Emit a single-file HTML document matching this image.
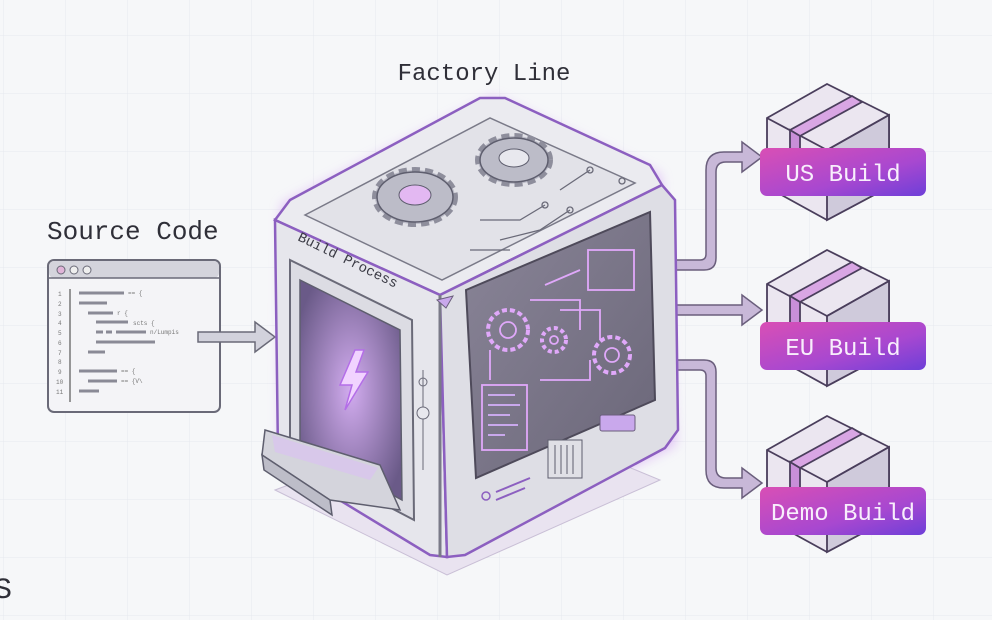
<!DOCTYPE html>
<html><head><meta charset="utf-8"><style>
html,body{margin:0;padding:0;background:#f6f7f9;}
svg{display:block}
text{font-family:"Liberation Mono","DejaVu Sans Mono",monospace;}
</style></head><body>
<svg width="992" height="620" viewBox="0 0 992 620" xmlns="http://www.w3.org/2000/svg">
<defs>
<pattern id="g" width="62" height="58" patternUnits="userSpaceOnUse" x="4" y="36">
<path d="M62 0V58M0 58H62" stroke="#e6e8ee" stroke-width="1" fill="none"/>
</pattern>
<linearGradient id="lab" x1="0" y1="0" x2="1" y2="1">
<stop offset="0" stop-color="#d94fb5"/><stop offset="0.6" stop-color="#a848d0"/><stop offset="1" stop-color="#6e3fd8"/>
</linearGradient>
<linearGradient id="scr" x1="0" y1="0" x2="1" y2="1">
<stop offset="0" stop-color="#8a8598"/><stop offset="1" stop-color="#6a6678"/>
</linearGradient>
<radialGradient id="door" cx="0.5" cy="0.5" r="0.6">
<stop offset="0" stop-color="#d2acef"/><stop offset="1" stop-color="#6a5a88"/>
</radialGradient>
<filter id="glow" x="-20%" y="-20%" width="140%" height="140%"><feGaussianBlur stdDeviation="6"/></filter>
</defs>
<rect width="992" height="620" fill="#f6f7f9"/>
<rect width="992" height="620" fill="url(#g)"/>

<text x="484" y="80" font-size="24" text-anchor="middle" fill="#2f2f38">Factory Line</text>
<text x="47" y="239" font-size="26" fill="#2f2f38">Source Code</text>
<text x="-6" y="598" font-size="30" fill="#2f2f38">S</text>

<!-- code window -->
<rect x="48" y="260" width="172" height="152" rx="6" fill="#f4f4f7" stroke="#6a6a78" stroke-width="2"/>
<rect x="49" y="261" width="170" height="17" rx="5" fill="#d4d4dc"/>
<path d="M48 278H220" stroke="#6a6a78" stroke-width="1.5"/>
<circle cx="61" cy="270" r="4" fill="#e0b4d8" stroke="#6a6a78"/>
<circle cx="74" cy="270" r="4" fill="#eee" stroke="#6a6a78"/>
<circle cx="87" cy="270" r="4" fill="#eee" stroke="#6a6a78"/>
<path d="M70 289V402" stroke="#777" stroke-width="1.5"/>
<g stroke="#8a8a96" stroke-width="3">
<path d="M79 293H124M79 303H107M88 313H113M96 322H128M96 332H103M106 332H112M116 332H146M96 342H155M88 352H105M79 371H117M88 381H117M79 391H99"/>
</g>
<g font-size="6" fill="#777"><text x="58" y="296">1</text><text x="58" y="306">2</text><text x="58" y="316">3</text><text x="58" y="325">4</text><text x="58" y="335">5</text><text x="58" y="345">6</text><text x="58" y="355">7</text><text x="58" y="364">8</text><text x="58" y="374">9</text><text x="56" y="384">10</text><text x="56" y="394">11</text>
<text x="128" y="295">== {</text><text x="117" y="315">r {</text><text x="133" y="325">scts {</text><text x="150" y="334">n/Lumpis</text><text x="121" y="373">== {</text><text x="121" y="383">== {V\</text></g>
<path d="M198 332H255V322L275 337L255 352V342H198Z" fill="#d2d2dc" stroke="#6a6a78" stroke-width="1.5"/>

<!-- output arrows -->
<g fill="#c8b8d8" stroke="#6a5e7c" stroke-width="1.5">
<path d="M660 260H700Q706 260 706 254V170Q706 152 724 152H742V142L762 157L742 172V162H726Q716 162 716 172V258Q716 270 704 270H660Z"/>
<path d="M660 305H742V295L762 310L742 325V315H660Z"/>
<path d="M660 360H704Q716 360 716 372V468Q716 478 726 478H742V468L762 483L742 498V488H724Q706 488 706 470V376Q706 370 700 370H660Z"/>
</g>

<!-- cube glow -->
<path d="M282 205L493 97L660 175L675 445L447 557L280 460Z" fill="#c98cf0" opacity="0.55" filter="url(#glow)"/>
<path d="M275 490L447 575L660 480L490 410Z" fill="#e9e3f0" stroke="#c9bfd6" stroke-width="1"/>
<!-- top face -->
<path d="M275 220L290 200L480 98L505 98L650 165L662 185L440 295Z" fill="#ebebf0" stroke="#8c5fc0" stroke-width="2.5"/>
<path d="M305 215L490 118L635 183L442 280Z" fill="#e2e2e8" stroke="#7a7a88" stroke-width="1.5"/>
<!-- left face -->
<path d="M275 220L440 295L447 557L430 555L290 470L278 455Z" fill="#e6e6ec" stroke="#8c5fc0" stroke-width="2.5"/>
<!-- right face -->
<path d="M440 295L662 185L675 200L678 430L665 448L465 555L447 557Z" fill="#dedee5" stroke="#8c5fc0" stroke-width="2.5"/>
<path d="M440 295V557" stroke="#7a7a88" stroke-width="3"/>
<polygon points="437,300 453,296 446,308" fill="#c9a8ec" stroke="#6a5e7c"/>
<!-- gears on top -->
<g fill="#bcbcc8" stroke="#5e5e6e" stroke-width="1.5">
<ellipse cx="415" cy="197" rx="40" ry="27" stroke-dasharray="8 5" stroke-width="6" stroke="#8e8e9c"/>
<ellipse cx="415" cy="197" rx="38" ry="25"/>
<ellipse cx="514" cy="160" rx="36" ry="24" stroke-dasharray="8 5" stroke-width="6" stroke="#8e8e9c"/>
<ellipse cx="514" cy="160" rx="34" ry="22"/>
</g>
<ellipse cx="415" cy="195" rx="16" ry="10" fill="#e3b8f2" stroke="#5e5e6e"/>
<ellipse cx="514" cy="158" rx="15" ry="9" fill="#e8e8ee" stroke="#5e5e6e"/>
<g stroke="#6a6a78" fill="none" stroke-width="1.3"><path d="M480 220H520L545 205M500 240L540 230L570 210M560 190L590 170M470 250H510"/><circle cx="545" cy="205" r="3"/><circle cx="570" cy="210" r="3"/><circle cx="590" cy="170" r="3"/><circle cx="622" cy="181" r="3"/></g>
<!-- left door -->
<path d="M290 260L412 320L414 520L290 455Z" fill="#dcdce3" stroke="#6a6a78" stroke-width="2"/>
<path d="M300 280L400 330L402 500L300 445Z" fill="url(#door)" stroke="#5e5e6e" stroke-width="1.5"/>
<path d="M355 350L340 385H352L345 410L368 372H356L364 350Z" fill="#f1d3ff" stroke="#b46ee8" stroke-width="1.5"/>
<!-- tray -->
<path d="M265 430L380 465L400 510L330 500L262 455Z" fill="#d4d4dc" stroke="#5e5e6e" stroke-width="1.5"/>
<path d="M272 435L378 468L370 480L275 452Z" fill="#d8c4ee" opacity="0.8"/>
<path d="M262 455L330 500L332 515L264 470Z" fill="#bdbdc8" stroke="#5e5e6e" stroke-width="1.5"/>
<text transform="translate(297,240) rotate(26)" font-size="14" fill="#3a3a44">Build Process</text>
<!-- screen -->
<path d="M466 290L650 212L655 400L476 478Z" fill="url(#scr)" stroke="#4e4a5a" stroke-width="2"/>
<g stroke="#e0a8fa" stroke-width="1.8" fill="none">
<circle cx="508" cy="330" r="20" stroke-dasharray="5 3" stroke-width="4"/><circle cx="508" cy="330" r="8"/>
<circle cx="554" cy="340" r="12" stroke-dasharray="4 3" stroke-width="4"/><circle cx="554" cy="340" r="4"/>
<circle cx="612" cy="355" r="18" stroke-dasharray="5 3" stroke-width="4"/><circle cx="612" cy="355" r="7"/>
<rect x="482" y="385" width="45" height="65"/>
<rect x="588" y="250" width="46" height="40"/>
<path d="M530 300H580V330M560 310H600V340M490 380V350M540 380H590V360M580 270L545 285"/>
</g>
<g stroke="#c9a8ec" stroke-width="2"><path d="M488 395H515M488 405H520M488 415H510M488 425H518M488 435H505"/></g>
<rect x="600" y="415" width="35" height="16" rx="2" fill="#c9a8ec" stroke="#6a5e7c"/>
<rect x="548" y="440" width="34" height="38" fill="#e0e0e6" stroke="#5e5e6e"/>
<g stroke="#5e5e6e"><path d="M555 445V474M561 445V474M567 445V474M573 445V474"/></g>
<circle cx="486" cy="496" r="4" fill="none" stroke="#8c5fc0" stroke-width="1.5"/>
<path d="M496 492L530 478M496 500L525 488" stroke="#8c5fc0" stroke-width="2"/>
<path d="M423 370V470" stroke="#6a6a78"/><circle cx="423" cy="382" r="4" fill="none" stroke="#6a6a78"/><circle cx="423" cy="413" r="6" fill="#e8e8ee" stroke="#6a6a78"/>

<!-- boxes -->
<g id="bx" stroke="#4a3e5c" stroke-width="1.8">
<path d="M767 118L827 84L889 115V187L827 220L767 187Z" fill="#ebe6f0"/>
<path d="M827 150L889 115V187L827 220Z" fill="#cfcadb"/>
<path d="M767 118L827 150L889 115" fill="none"/>
<path d="M790 130L852 96L862 102L800 136Z" fill="#d9a6e4"/>
<path d="M790 130L800 136V165L790 160Z" fill="#c88fd8"/>
</g>
<use href="#bx" y="166"/>
<use href="#bx" y="332"/>
<g>
<rect x="760" y="148" width="166" height="48" rx="7" fill="url(#lab)"/>
<rect x="760" y="322" width="166" height="48" rx="7" fill="url(#lab)"/>
<rect x="760" y="487" width="166" height="48" rx="7" fill="url(#lab)"/>
<text x="843" y="181" font-size="24" fill="#f8eefc" text-anchor="middle">US Build</text>
<text x="843" y="355" font-size="24" fill="#f8eefc" text-anchor="middle">EU Build</text>
<text x="843" y="520" font-size="24" fill="#f8eefc" text-anchor="middle">Demo Build</text>
</g>
</svg>
</body></html>
